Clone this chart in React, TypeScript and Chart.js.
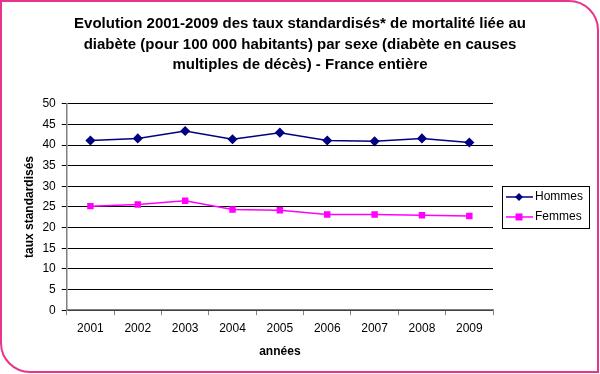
import React, { useEffect, useRef } from "react";
import { Chart, registerables } from "chart.js";

Chart.register(...registerables);

const titleLines = [
  "Evolution 2001-2009 des taux standardisés* de mortalité liée au",
  "diabète (pour 100 000 habitants) par sexe (diabète en causes",
  "multiples de décès) - France entière",
];
const years = ["2001", "2002", "2003", "2004", "2005", "2006", "2007", "2008", "2009"];
const hommes = [41.1, 41.6, 43.4, 41.4, 43.0, 41.1, 40.9, 41.6, 40.6];
const femmes = [25.2, 25.6, 26.5, 24.4, 24.2, 23.2, 23.2, 23.0, 22.8];
const yTitle = "taux standardisés";
const xTitle = "années";

const FONT = "'Liberation Sans', Arial, sans-serif";

const boxedLegend = {
  id: "boxedLegend",
  afterDraw(chart: any) {
    const ctx = chart.ctx;
    const area = chart.chartArea;
    const items = chart.data.datasets;
    const rowH = 20;
    const boxW = 87;
    const boxH = items.length * rowH + 2;
    const x0 = area.right + 9;
    const y0 = (area.top + area.bottom) / 2 - boxH / 2;
    ctx.save();
    ctx.strokeStyle = "#000";
    ctx.lineWidth = 1;
    ctx.strokeRect(Math.round(x0) + 0.5, Math.round(y0) + 0.5, boxW, boxH);
    ctx.font = "12px " + FONT;
    ctx.textBaseline = "middle";
    items.forEach((ds: any, i: number) => {
      const cy = y0 + 1 + rowH * i + rowH / 2;
      ctx.strokeStyle = ds.borderColor;
      ctx.lineWidth = 1.5;
      ctx.beginPath();
      ctx.moveTo(x0 + 4, cy);
      ctx.lineTo(x0 + 31, cy);
      ctx.stroke();
      ctx.fillStyle = ds.pointBackgroundColor;
      const mx = x0 + 17;
      if (ds.pointStyle === "rectRot") {
        ctx.beginPath();
        ctx.moveTo(mx, cy - 4);
        ctx.lineTo(mx + 4, cy);
        ctx.lineTo(mx, cy + 4);
        ctx.lineTo(mx - 4, cy);
        ctx.closePath();
        ctx.fill();
      } else {
        ctx.fillRect(mx - 3.5, cy - 3.5, 7, 7);
      }
      ctx.fillStyle = "#000";
      ctx.fillText(ds.label, x0 + 33, cy);
    });
    ctx.restore();
  },
};

export default function App() {
  const ref = useRef<HTMLCanvasElement>(null);
  useEffect(() => {
    if (!ref.current) return;
    const chart = new Chart(ref.current, {
      type: "line",
      data: {
        labels: years,
        datasets: [
          {
            label: "Hommes",
            data: hommes,
            borderColor: "#000080",
            backgroundColor: "#000080",
            pointBackgroundColor: "#000080",
            pointBorderColor: "#000080",
            pointStyle: "rectRot",
            pointRadius: 4,
            borderWidth: 1.5,
            tension: 0,
          },
          {
            label: "Femmes",
            data: femmes,
            borderColor: "#ff00ff",
            backgroundColor: "#ff00ff",
            pointBackgroundColor: "#ff00ff",
            pointBorderColor: "#ff00ff",
            pointStyle: "rect",
            pointRadius: 3.5,
            borderWidth: 1.5,
            tension: 0,
          },
        ],
      },
      options: {
        animation: false,
        responsive: false,
        maintainAspectRatio: false,
        layout: { padding: { left: 0, right: 0, top: 0, bottom: 11 } },
        plugins: {
          legend: { display: false },
          tooltip: { enabled: false },
          title: {
            display: true,
            text: titleLines,
            color: "#000",
            font: { family: FONT, size: 15, weight: "bold", lineHeight: 1.35 },
            padding: { top: 14, bottom: 29 },
          },
        },
        scales: {
          x: {
            offset: true,
            grid: {
              offset: true,
              drawOnChartArea: false,
              drawTicks: true,
              tickLength: 5,
              color: "#808080",
            },
            border: { color: "#808080", width: 1.5 },
            ticks: { color: "#000", font: { family: FONT, size: 12 }, padding: 6 },
            title: {
              display: true,
              text: xTitle,
              color: "#000",
              font: { family: FONT, size: 12, weight: "bold" },
              padding: { top: 3, bottom: 4 },
            },
          },
          y: {
            min: 0,
            max: 50,
            ticks: { stepSize: 5, color: "#000", font: { family: FONT, size: 12 }, padding: 6 },
            grid: { color: "#000", lineWidth: 1, tickLength: 5 },
            border: { color: "#808080", width: 1.5 },
            title: {
              display: true,
              text: yTitle,
              color: "#000",
              font: { family: FONT, size: 12, weight: "bold" },
              padding: { top: 22, bottom: 0 },
            },
          },
          legendSpace: {
            type: "linear",
            position: "right",
            display: true,
            grid: { display: false },
            border: { display: false },
            ticks: { display: false },
            title: { display: false },
            afterFit: (scale: any) => {
              scale.width = 107;
            },
          } as any,
        },
      },
      plugins: [boxedLegend],
    });
    return () => chart.destroy();
  }, []);

  return (
    <div style={{ position: "fixed", left: 0, top: 0, width: 600, height: 374, background: "#fff" }}>
      <canvas ref={ref} width={600} height={374} style={{ position: "absolute", left: 0, top: 0 }} />
      <div
        style={{
          position: "absolute",
          left: 0,
          top: 0,
          width: 599,
          height: 373,
          boxSizing: "border-box",
          border: "2px solid #e8358c",
          borderRadius: "0 30px 0 30px",
          pointerEvents: "none",
        }}
      />
    </div>
  );
}
